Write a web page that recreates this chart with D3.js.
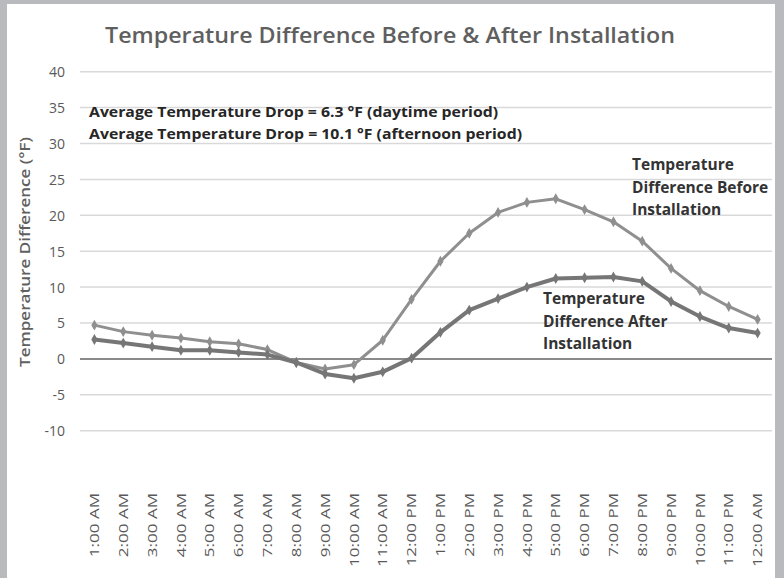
<!DOCTYPE html>
<html>
<head>
    <meta charset="utf-8">
    <title>Temperature Difference</title>
    <style>
        body { margin: 0; background: #b9babe; }
        svg { display: block; }
        text { font-family: "Open Sans", sans-serif; }
        .grid line { stroke: #d9d9d9; stroke-width: 1.5px; }
        .zero { stroke: #8a8a8a; stroke-width: 2px; }
        .tick text { fill: #595959; }
    </style>
</head>
<body>
    <script src="https://d3js.org/d3.v7.min.js"></script>
    <script>

        // hours along the x axis
        var hours = ["1:00 AM", "2:00 AM", "3:00 AM", "4:00 AM", "5:00 AM", "6:00 AM",
            "7:00 AM", "8:00 AM", "9:00 AM", "10:00 AM", "11:00 AM", "12:00 PM",
            "1:00 PM", "2:00 PM", "3:00 PM", "4:00 PM", "5:00 PM", "6:00 PM",
            "7:00 PM", "8:00 PM", "9:00 PM", "10:00 PM", "11:00 PM", "12:00 AM"];

        // temperature difference (°F)
        var before = [4.7, 3.8, 3.3, 2.9, 2.4, 2.1, 1.3, -0.5, -1.4, -0.8, 2.6, 8.3,
            13.6, 17.5, 20.4, 21.8, 22.3, 20.8, 19.1, 16.4, 12.6, 9.5, 7.3, 5.5];
        var after = [2.7, 2.2, 1.7, 1.2, 1.2, 0.9, 0.6, -0.5, -2.1, -2.7, -1.8, 0.1,
            3.7, 6.8, 8.4, 10.0, 11.2, 11.3, 11.4, 10.8, 8.0, 5.9, 4.3, 3.6];

        var yTicks = [-10, -5, 0, 5, 10, 15, 20, 25, 30, 35, 40];

        var notes = ["Average Temperature Drop = 6.3 °F (daytime period)",
            "Average Temperature Drop = 10.1 °F (afternoon period)"];

        var width = 784,
            height = 578;

        var svg = d3.select("body").append("svg")
            .attr("width", width)
            .attr("height", height);

        // white panel inside the grey frame
        svg.append("rect")
            .attr("x", 7)
            .attr("y", 4)
            .attr("width", 768)
            .attr("height", height - 4)
            .style("fill", "#fff");

        var x = d3.scalePoint()
            .domain(hours)
            .range([80, 772])
            .padding(0.5);

        var y = d3.scaleLinear()
            .domain([-10, 40])
            .range([430.7, 71.7]);

        // gridlines
        svg.append("g")
            .attr("class", "grid")
            .selectAll("line")
            .data(yTicks.filter(function (d) { return d != 0; }))
            .enter()
            .append("line")
            .attr("x1", 80)
            .attr("x2", 772)
            .attr("y1", function (d) { return y(d); })
            .attr("y2", function (d) { return y(d); });

        svg.append("line")
            .attr("class", "zero")
            .attr("x1", 80)
            .attr("x2", 772)
            .attr("y1", y(0))
            .attr("y2", y(0));

        // y axis labels (plain hyphen for negatives, as in the original)
        var yAxis = d3.axisLeft(y)
            .tickValues(yTicks)
            .tickFormat(function (d) { return String(d); })
            .tickSize(0)
            .tickPadding(0);
        svg.append("g")
            .attr("transform", "translate(65,0)")
            .call(yAxis)
            .call(function (g) { g.select(".domain").remove(); })
            .selectAll("text")
            .style("font-size", "14px")
            .attr("dy", "0.35em");

        // x axis labels, rotated and stretched like the original
        var xAxis = d3.axisBottom(x).tickSize(0).tickPadding(0);
        svg.append("g")
            .attr("transform", "translate(0,493)")
            .call(xAxis)
            .call(function (g) { g.select(".domain").remove(); })
            .selectAll("text")
            .style("font-size", "12px")
            .attr("transform", "rotate(-90) scale(1.42,1)")
            .attr("text-anchor", "end")
            .attr("x", 0)
            .attr("y", 0)
            .attr("dy", "0.35em");

        var line = d3.line()
            .x(function (d, i) { return x(hours[i]); })
            .y(function (d) { return y(d); });

        var diamond = d3.symbol().type(d3.symbolDiamond).size(34);

        function drawSeries(values, color, w) {
            svg.append("path")
                .datum(values)
                .attr("d", line)
                .style("fill", "none")
                .style("stroke", color)
                .style("stroke-width", w)
                .style("stroke-linejoin", "round");

            svg.append("g")
                .selectAll("path")
                .data(values)
                .enter()
                .append("path")
                .attr("d", diamond)
                .attr("transform", function (d, i) {
                    return "translate(" + x(hours[i]) + "," + y(d) + ")";
                })
                .style("fill", color);
        }

        drawSeries(before, "#8f8f8f", 3);
        drawSeries(after, "#767676", 4);

        // title
        svg.append("text")
            .attr("x", 390)
            .attr("y", 43)
            .attr("text-anchor", "middle")
            .attr("textLength", 570)
            .attr("lengthAdjust", "spacingAndGlyphs")
            .style("font-size", "22px")
            .style("font-weight", "600")
            .style("fill", "#5f5f5f")
            .text("Temperature Difference Before & After Installation");

        // y axis title
        svg.append("text")
            .attr("transform", "translate(30,252) rotate(-90)")
            .attr("text-anchor", "middle")
            .attr("textLength", 230)
            .attr("lengthAdjust", "spacingAndGlyphs")
            .style("font-size", "15px")
            .style("font-weight", "600")
            .style("fill", "#5f5f5f")
            .text("Temperature Difference (°F)");

        // average drop notes
        var noteWidths = [409, 433];
        svg.selectAll(".note")
            .data(notes)
            .enter()
            .append("text")
            .attr("class", "note")
            .attr("x", 89)
            .attr("y", function (d, i) { return 117 + i * 22; })
            .attr("textLength", function (d, i) { return noteWidths[i]; })
            .attr("lengthAdjust", "spacingAndGlyphs")
            .style("font-size", "15px")
            .style("font-weight", "bold")
            .style("fill", "#262626")
            .text(function (d) { return d; });

        // series labels
        function seriesLabel(lines, lx, ly) {
            var t = svg.append("text")
                .attr("x", lx)
                .attr("y", ly)
                .style("font-size", "15.5px")
                .style("font-weight", "bold")
                .style("fill", "#333");
            t.selectAll("tspan")
                .data(lines)
                .enter()
                .append("tspan")
                .attr("x", lx)
                .attr("dy", function (d, i) { return i == 0 ? 0 : 22.5; })
                .text(function (d) { return d; });
        }

        seriesLabel(["Temperature", "Difference Before", "Installation"], 632, 170);
        seriesLabel(["Temperature", "Difference After", "Installation"], 543, 304);

    </script>
</body>
</html>
